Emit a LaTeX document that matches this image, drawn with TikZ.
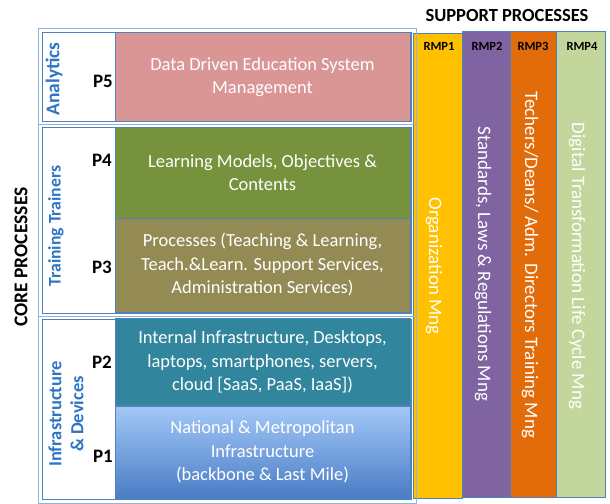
\documentclass[tikz,border=0pt]{standalone}
\usepackage{fontspec}
\setmainfont{Carlito}
\definecolor{frameout}{HTML}{95B3D7}
\definecolor{framein}{HTML}{4F81BD}
\definecolor{labelblue}{HTML}{2E75C6}
\definecolor{cpink}{HTML}{D99694}
\definecolor{cgreen}{HTML}{76923C}
\definecolor{colive}{HTML}{948A54}
\definecolor{cteal}{HTML}{31859C}
\definecolor{clbtop}{HTML}{A3C8F7}
\definecolor{clbbot}{HTML}{4A7DC6}
\definecolor{cyellow}{HTML}{FFC000}
\definecolor{cpurple}{HTML}{8064A2}
\definecolor{corange}{HTML}{E36C0A}
\definecolor{clgreen}{HTML}{C3D69B}
\tikzset{
  outerframe/.style={draw=frameout, line width=0.8pt},
  innerframe/.style={draw=framein, line width=0.6pt},
  corebox/.style={draw=framein, line width=0.6pt, text=white, align=center,
    font=\fontsize{18.5}{23.5}\selectfont, minimum width=295pt, inner sep=0pt},
  plabel/.style={font=\bfseries\fontsize{19}{22}\selectfont, anchor=east, inner sep=0pt},
  grouplabel/.style={text=labelblue, rotate=90, align=center, inner sep=0pt},
  rmpbox/.style={draw=framein, line width=0.6pt, inner sep=0pt},
  rmphead/.style={font=\bfseries\fontsize{12.5}{14}\selectfont, inner sep=0pt},
  rmptext/.style={rotate=-90, text=white, font=\fontsize{19}{22}\selectfont, inner sep=0pt},
  titletext/.style={font=\bfseries\fontsize{18.5}{20}\selectfont, inner sep=0pt}
}
\begin{document}
\begin{tikzpicture}[x=1pt,y=-1pt]
\useasboundingbox (0,0) rectangle (610,503);
\fill[white] (0,0) rectangle (610,503);

% support columns
\node[rmpbox, fill=cyellow, minimum width=49pt, minimum height=465pt] (rmp1) at (437.5,265.5) {};
\node[rmpbox, fill=cpurple, minimum width=48pt, minimum height=466pt] (rmp2) at (486,264) {};
\node[rmpbox, fill=corange, minimum width=46pt, minimum height=466pt] (rmp3) at (533,264) {};
\node[rmpbox, fill=clgreen, minimum width=49pt, minimum height=466pt] (rmp4) at (580.5,264) {};

\node[rmphead] (h1) at (439,46) {RMP1};
\node[rmphead] (h2) at (487,46) {RMP2};
\node[rmphead] (h3) at (533,46) {RMP3};
\node[rmphead] (h4) at (582,46) {RMP4};

\node[rmptext] (t1) at (434,266) {Organization Mng};
\node[rmptext] (t2) at (483,264) {Standards, Laws \& Regulations Mng};
\node[rmptext] (t3) at (530,265) {Techers/Deans/ Adm. Directors Training Mng};
\node[rmptext] (t4) at (577,266) {Digital Transformation Life Cycle Mng};

\node[titletext] (sup) at (507,16) {SUPPORT PROCESSES};

% group frames
\draw[outerframe] (38,28) rectangle (416,124);
\draw[innerframe] (42,32) rectangle (411,121);
\draw[outerframe] (38,124) rectangle (416,316);
\draw[innerframe] (42,127) rectangle (411,313);
\draw[outerframe] (38,316) rectangle (416,503);
\draw[innerframe] (42,319) rectangle (411,499);

% core boxes
\node[corebox, fill=cpink, minimum height=89pt] (p5) at (262.5,77) {Data Driven Education System\\Management};
\node[corebox, fill=cgreen, minimum height=91pt] (p4) at (262.5,172.5) {Learning Models, Objectives \&\\Contents};
\node[corebox, fill=colive, minimum height=94pt] (p3) at (262.5,265) {Processes (Teaching \& Learning,\\Teach.\&Learn. Support Services,\\Administration Services)};
\node[corebox, fill=cteal, minimum height=87pt] (p2) at (262.5,362) {Internal Infrastructure, Desktops,\\laptops, smartphones, servers,\\cloud [SaaS, PaaS, IaaS])};
\node[corebox, top color=clbtop, bottom color=clbbot, minimum height=92pt] (p1) at (262.5,452) {National \& Metropolitan\\Infrastructure\\(backbone \& Last Mile)};

% P labels
\node[plabel] (l5) at (113,81) {P5};
\node[plabel] (l4) at (112,160) {P4};
\node[plabel] (l3) at (112,267) {P3};
\node[plabel] (l2) at (112,362) {P2};
\node[plabel] (l1) at (113,456) {P1};

% group labels
\node[grouplabel, font=\bfseries\fontsize{19.5}{22}\selectfont] (ga) at (54,79) {Analytics};
\node[grouplabel, font=\bfseries\fontsize{17.7}{22}\selectfont] (gt) at (56,226) {Training Trainers};
\node[grouplabel, font=\bfseries\fontsize{18.5}{22}\selectfont] (gi) at (66,414) {Infrastructure\\\& Devices};

\node[titletext, font=\bfseries\fontsize{19.5}{22}\selectfont, rotate=90] (core) at (21,257) {CORE PROCESSES};
\end{tikzpicture}
\end{document}
